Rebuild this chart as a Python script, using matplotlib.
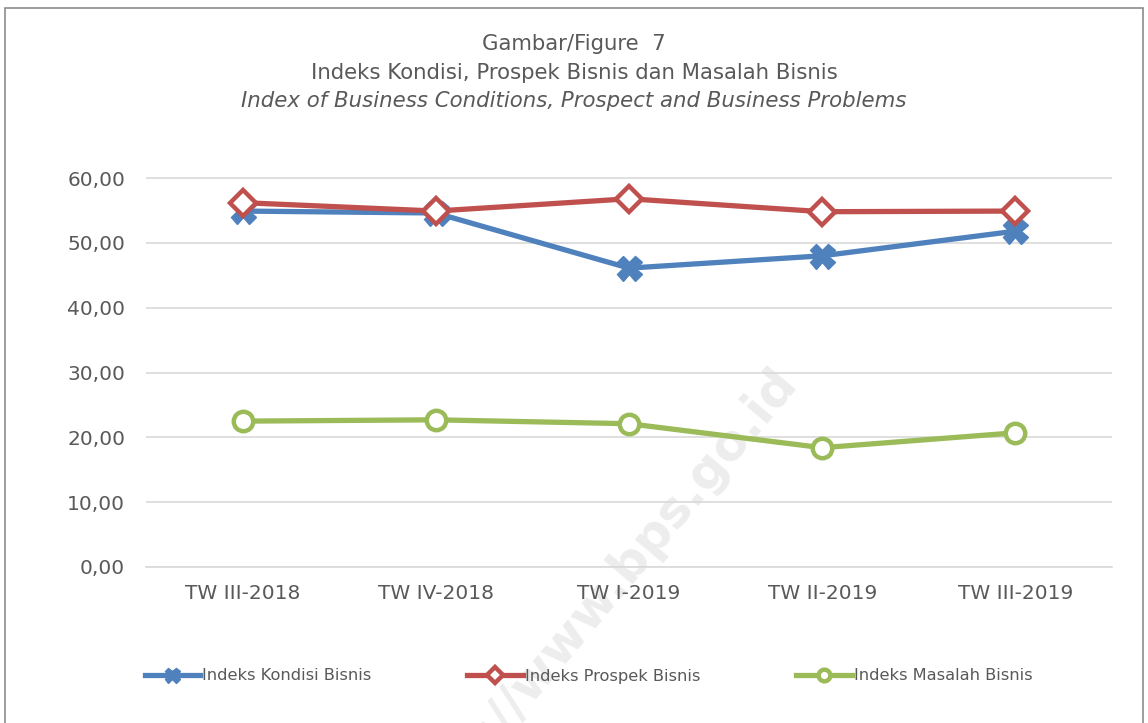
import matplotlib
matplotlib.use("Agg")
import matplotlib.pyplot as plt
from matplotlib.patches import Rectangle

categories = ["TW III-2018", "TW IV-2018", "TW I-2019", "TW II-2019", "TW III-2019"]
kondisi = [54.9, 54.6, 46.1, 48.0, 51.8]
prospek = [56.2, 54.9, 56.8, 54.8, 54.9]
masalah = [22.5, 22.7, 22.1, 18.4, 20.7]
yticks = [0, 10, 20, 30, 40, 50, 60]
ytick_labels = ["0,00", "10,00", "20,00", "30,00", "40,00", "50,00", "60,00"]

txt = "#595959"
plt.rcParams['font.family'] = ['DejaVu Sans']

fig = plt.figure(figsize=(11.48, 7.23), dpi=100)
W, H = 1148, 723
ax = fig.add_axes([146 / W, 1 - 567 / H, (1112 - 146) / W, (567 - 178) / H * 66 / 60])

# figure border
fig.patches.append(Rectangle((5 / W, -0.01), (1143 - 5) / W, 1 - 8 / H + 0.01,
                             transform=fig.transFigure, fill=False,
                             edgecolor="#8c8c8c", linewidth=1.2))

# watermark (behind everything)
fig.text(0.52, 0.17, "http://www.bps.go.id", rotation=50, fontsize=36,
         fontweight="bold", color="#ededed", ha="center", va="center", zorder=-1)

x = range(len(categories))
ax.plot(x, kondisi, color="#4f81bd", lw=3.8, marker="X", markersize=18,
        markeredgecolor="#4f81bd", markerfacecolor="#4f81bd", label="Indeks Kondisi Bisnis", zorder=3)
ax.plot(x, prospek, color="#c0504d", lw=3.8, marker="D", markersize=13.5,
        markeredgecolor="#c0504d", markerfacecolor="white", markeredgewidth=3.2,
        label="Indeks Prospek Bisnis", zorder=4)
ax.plot(x, masalah, color="#9bbb59", lw=3.8, marker="o", markersize=14,
        markeredgecolor="#9bbb59", markerfacecolor="white", markeredgewidth=3.2,
        label="Indeks Masalah Bisnis", zorder=3)

ax.set_xlim(-0.5, 4.5)
ax.set_ylim(0, 66)
ax.set_yticks(yticks)
ax.set_yticklabels(ytick_labels)
ax.set_xticks(list(x))
ax.set_xticklabels(categories)
ax.tick_params(axis="both", length=0, labelsize=14.5, colors=txt)
ax.tick_params(axis="x", pad=12)
ax.tick_params(axis="y", pad=15)
ax.yaxis.grid(True, color="#d9d9d9", lw=1.2)
ax.set_axisbelow(True)
for s in ["top", "right", "left"]:
    ax.spines[s].set_visible(False)
ax.spines["bottom"].set_color("#d9d9d9")
ax.spines["bottom"].set_linewidth(1.2)
ax.patch.set_alpha(0)

fig.text(0.5, 1 - 44 / H, "Gambar/Figure  7", ha="center", va="center", fontsize=15.3, color=txt)
fig.text(0.5, 1 - 73 / H, "Indeks Kondisi, Prospek Bisnis dan Masalah Bisnis", ha="center",
         va="center", fontsize=15.3, color=txt)
fig.text(0.5, 1 - 101 / H, "Index of Business Conditions, Prospect and Business Problems",
         ha="center", va="center", fontsize=15.3, color=txt, style="italic")

leg = fig.legend(loc="center", bbox_to_anchor=(0.5127, 1 - 676 / H), ncol=3, frameon=False,
                 fontsize=11.7, handlelength=3.4, handletextpad=0.15, columnspacing=5.9,
                 markerscale=0.6)
for t in leg.get_texts():
    t.set_color(txt)

fig.savefig("out.png", dpi=100)
